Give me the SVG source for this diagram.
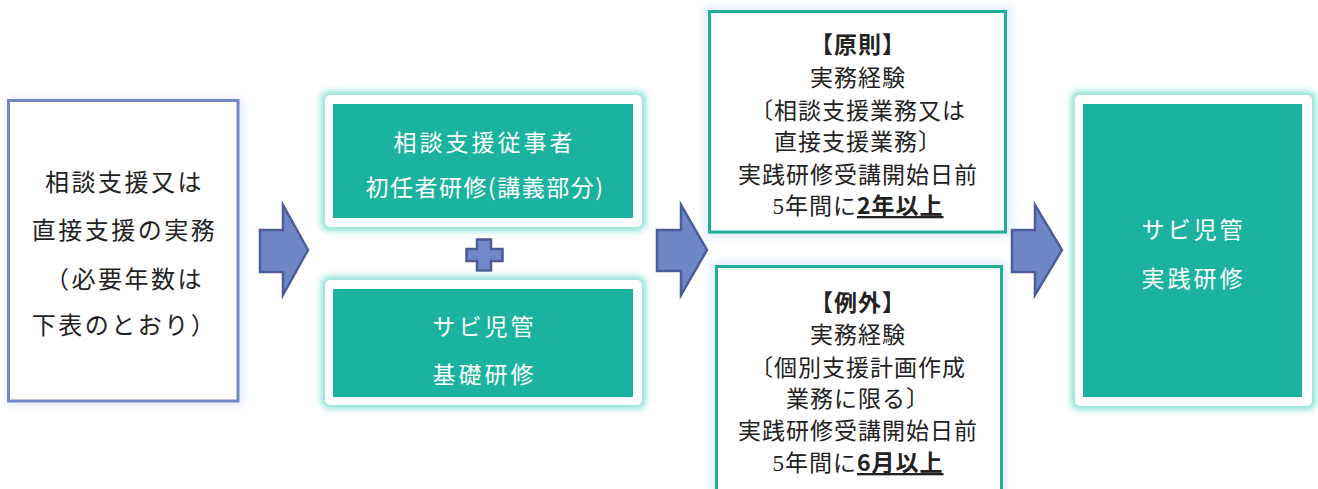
<svg xmlns="http://www.w3.org/2000/svg" width="1318" height="489" viewBox="0 0 1318 489">
  <style>
    .bg { fill: #ffffff; }
    .glow { fill: #8fe3d6; }
    .card { fill: #ffffff; }
    .teal { fill: #1bb39f; }
    .tt { font-family: "Noto Sans CJK JP", sans-serif; font-size: 23px; fill: #ffffff; letter-spacing: 3px; text-anchor: middle; }
    .wt { font-family: "Liberation Serif", "Noto Sans CJK JP", serif; font-size: 23px; fill: #222222; letter-spacing: 1px; text-anchor: middle; }
    .lt { font-family: "Liberation Serif", "Noto Sans CJK JP", serif; font-size: 24px; fill: #222222; letter-spacing: 2.5px; text-anchor: middle; }
    .b { font-family: "Noto Sans CJK JP", sans-serif; font-weight: bold; }
    .u { text-decoration: underline; }
    .frame { fill: #ffffff; stroke: #1fae9b; stroke-width: 3; }
    .lframe { fill: #ffffff; stroke: #7389c6; stroke-width: 3; }
    .arrow { fill: #6f87c6; stroke: #4c5d99; stroke-width: 2.5; stroke-linejoin: miter; }
    .shadow { fill: #e4eefb; }
  </style>
  <defs>
    <filter id="blur" x="-10%" y="-10%" width="120%" height="120%">
      <feGaussianBlur stdDeviation="3"/>
    </filter>
    <filter id="soft" x="-10%" y="-10%" width="120%" height="120%">
      <feGaussianBlur stdDeviation="4"/>
    </filter>
  </defs>
  <rect class="bg" x="0" y="0" width="1318" height="489"/>

  <g id="node-left">
    <rect class="shadow" x="6" y="98" width="237" height="308" filter="url(#soft)"/>
    <rect class="lframe" x="8.5" y="100.5" width="229.5" height="300.5"/>
    <text class="lt" x="124.5" y="191">相談支援又は</text>
    <text class="lt" x="124.5" y="239">直接支援の実務</text>
    <text class="lt" x="124.5" y="288">（必要年数は</text>
    <text class="lt" x="124.5" y="334">下表のとおり）</text>
  </g>

  <g id="node-shoninsha">
    <rect class="glow" x="321" y="91" width="325" height="140" rx="8" filter="url(#blur)"/>
    <rect class="card" x="325" y="95" width="317" height="132" rx="5"/>
    <rect class="teal" x="333" y="104" width="300" height="114"/>
    <text class="tt" x="484.5" y="151">相談支援従事者</text>
    <text class="tt" x="485" y="196" style="letter-spacing:1.5px">初任者研修(講義部分)</text>
  </g>

  <g id="node-plus">
    <path d="M477,239.5 H491 V249 H502.5 V261 H491 V270.5 H477 V261 H466.5 V249 H477 Z" fill="#7189c8" stroke="#4d5b93" stroke-width="2.5"/>
  </g>

  <g id="node-kiso">
    <rect class="glow" x="321" y="276" width="325" height="133" rx="8" filter="url(#blur)"/>
    <rect class="card" x="325" y="280" width="317" height="125" rx="5"/>
    <rect class="teal" x="333" y="289" width="300" height="108"/>
    <text class="tt" x="484.5" y="335">サビ児管</text>
    <text class="tt" x="484.5" y="383">基礎研修</text>
  </g>

  <g id="node-gensoku">
    <rect class="shadow" x="704" y="6" width="308" height="232" filter="url(#soft)"/>
    <rect class="frame" x="709.5" y="11.5" width="296" height="220.5"/>
    <text class="wt b" x="858" y="53">【原則】</text>
    <text class="wt" x="858" y="86">実務経験</text>
    <text class="wt" x="858" y="119">〔相談支援業務又は</text>
    <text class="wt" x="858" y="150">直接支援業務〕</text>
    <text class="wt" x="858" y="183">実践研修受講開始日前</text>
    <text class="wt" x="858" y="214">5年間に<tspan class="b u">2年以上</tspan></text>
  </g>

  <g id="node-reigai">
    <rect class="shadow" x="711" y="261" width="296" height="235" filter="url(#soft)"/>
    <rect class="frame" x="716.5" y="266.5" width="285" height="225"/>
    <text class="wt b" x="858" y="311">【例外】</text>
    <text class="wt" x="858" y="343">実務経験</text>
    <text class="wt" x="858" y="376">〔個別支援計画作成</text>
    <text class="wt" x="858" y="407">業務に限る〕</text>
    <text class="wt" x="858" y="439">実践研修受講開始日前</text>
    <text class="wt" x="858" y="471">5年間に<tspan class="b u">6月以上</tspan></text>
  </g>

  <g id="node-jissen">
    <rect class="glow" x="1071" y="91" width="245" height="319" rx="8" filter="url(#blur)"/>
    <rect class="card" x="1075" y="95" width="237" height="311" rx="5"/>
    <rect class="teal" x="1083" y="104" width="219" height="293"/>
    <text class="tt" x="1193.5" y="238">サビ児管</text>
    <text class="tt" x="1193.5" y="287">実践研修</text>
  </g>

  <g id="connectors">
    <path class="arrow" d="M260,230 H283 V205 L308,250 L283,295 V272 H260 Z"/>
    <path class="arrow" d="M657,230 H681 V205 L707,250 L681,295 V271 H657 Z"/>
    <path class="arrow" d="M1012,230 H1035 V205 L1062,250 L1035,295 V272 H1012 Z"/>
  </g>
</svg>
